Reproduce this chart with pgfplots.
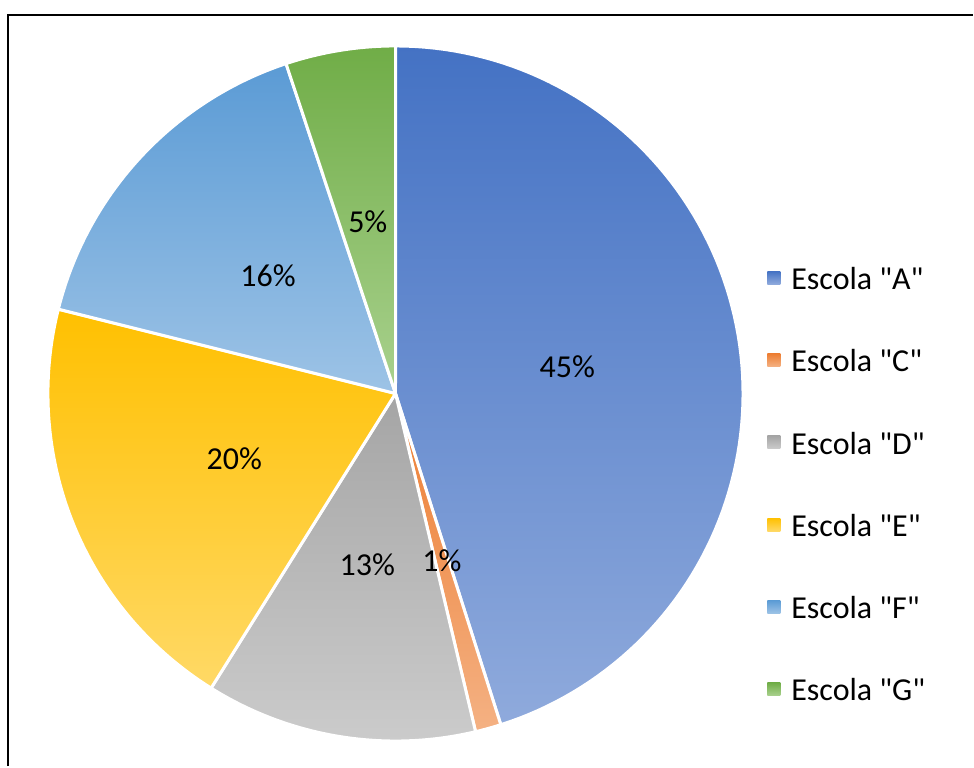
\documentclass[border=0pt]{standalone}
\usepackage{fontspec}
\setmainfont{Carlito}[Ligatures=TeXOff]
\usepackage{pgfplots}
\usepackage{pgfplotstable}
\pgfplotsset{compat=1.18}
\definecolor{At}{HTML}{4472C4}\definecolor{Ab}{HTML}{8FAADC}
\definecolor{Ct}{HTML}{ED7D31}\definecolor{Cb}{HTML}{F4B183}
\definecolor{Dt}{HTML}{A5A5A5}\definecolor{Db}{HTML}{CBCBCB}
\definecolor{Et}{HTML}{FFC000}\definecolor{Eb}{HTML}{FFD966}
\definecolor{Ft}{HTML}{5B9BD5}\definecolor{Fb}{HTML}{9DC3E6}
\definecolor{Gt}{HTML}{70AD47}\definecolor{Gb}{HTML}{A9D18E}
\newcommand{\labfont}{\fontsize{16}{19}\selectfont}
\newcommand{\q}{\symbol{34}}
\pgfplotstableread{
name value top bot
A 45.1 At Ab
C 1.2 Ct Cb
D 12.6 Dt Db
E 20.0 Et Eb
F 16.0 Ft Fb
G 5.1 Gt Gb
}\piedata
\begin{document}
\begin{tikzpicture}
\begin{axis}[scale only axis, width=487pt, height=383.5pt,
  xmin=0, xmax=974, ymin=0, ymax=767, hide axis, clip=false,
  legend cell align=left,
  legend style={at={(axis description cs:0.7885,0.6519)}, anchor=north west,
    draw=none, fill=none, inner sep=0pt, row sep=30pt, font=\labfont,
    nodes={inner sep=0pt, text height=11.2pt, text depth=0pt},
    /tikz/every odd column/.style={column sep=5.5pt}}]
\path (axis cs:0,0) rectangle (axis cs:974,767);
\draw[line width=1.25pt] (axis cs:8,0) |- (axis cs:974,752);
\def\cum{0}
\pgfplotsforeachungrouped \i in {0,...,5}{%
  \pgfplotstablegetelem{\i}{value}\of\piedata \let\pv\pgfplotsretval
  \pgfplotstablegetelem{\i}{top}\of\piedata \let\ct\pgfplotsretval
  \pgfplotstablegetelem{\i}{bot}\of\piedata \let\cb\pgfplotsretval
  \pgfmathsetmacro\angA{90-3.6*\cum}
  \pgfmathsetmacro\angB{90-3.6*(\cum+\pv)}
  \edef\doit{\noexpand\addplot[forget plot, draw=white, line width=1.5pt, line join=round,
     top color=\ct, bottom color=\cb, domain=\angB:\angA, samples=100]
     ({396+348*cos(x)},{373+348*sin(x)}) -- (axis cs:396,373) -- cycle;}
  \doit
  \pgfmathsetmacro\cum{\cum+\pv}
}
\def\cum{0}
\pgfplotsforeachungrouped \i in {0,...,5}{%
  \pgfplotstablegetelem{\i}{value}\of\piedata \let\pv\pgfplotsretval
  \pgfmathsetmacro\angM{90-3.6*(\cum+\pv/2)}
  \pgfmathsetmacro\lx{396+174*cos(\angM)}
  \pgfmathsetmacro\ly{373+174*sin(\angM)}
  \pgfmathtruncatemacro\rv{round(\pv)}
  \edef\doit{\noexpand\node[font=\noexpand\labfont] at (axis cs:\lx,\ly)
     {\rv\noexpand\%};}
  \doit
  \pgfmathsetmacro\cum{\cum+\pv}
}
\addlegendimage{legend image code/.code={\shade[draw=none,top color=At,bottom color=Ab] (0pt,-3pt) rectangle (6.5pt,3.5pt);}}
\addlegendentry{Escola \q A\q}
\addlegendimage{legend image code/.code={\shade[draw=none,top color=Ct,bottom color=Cb] (0pt,-3pt) rectangle (6.5pt,3.5pt);}}
\addlegendentry{Escola \q C\q}
\addlegendimage{legend image code/.code={\shade[draw=none,top color=Dt,bottom color=Db] (0pt,-3pt) rectangle (6.5pt,3.5pt);}}
\addlegendentry{Escola \q D\q}
\addlegendimage{legend image code/.code={\shade[draw=none,top color=Et,bottom color=Eb] (0pt,-3pt) rectangle (6.5pt,3.5pt);}}
\addlegendentry{Escola \q E\q}
\addlegendimage{legend image code/.code={\shade[draw=none,top color=Ft,bottom color=Fb] (0pt,-3pt) rectangle (6.5pt,3.5pt);}}
\addlegendentry{Escola \q F\q}
\addlegendimage{legend image code/.code={\shade[draw=none,top color=Gt,bottom color=Gb] (0pt,-3pt) rectangle (6.5pt,3.5pt);}}
\addlegendentry{Escola \q G\q}
\end{axis}
\end{tikzpicture}
\end{document}
